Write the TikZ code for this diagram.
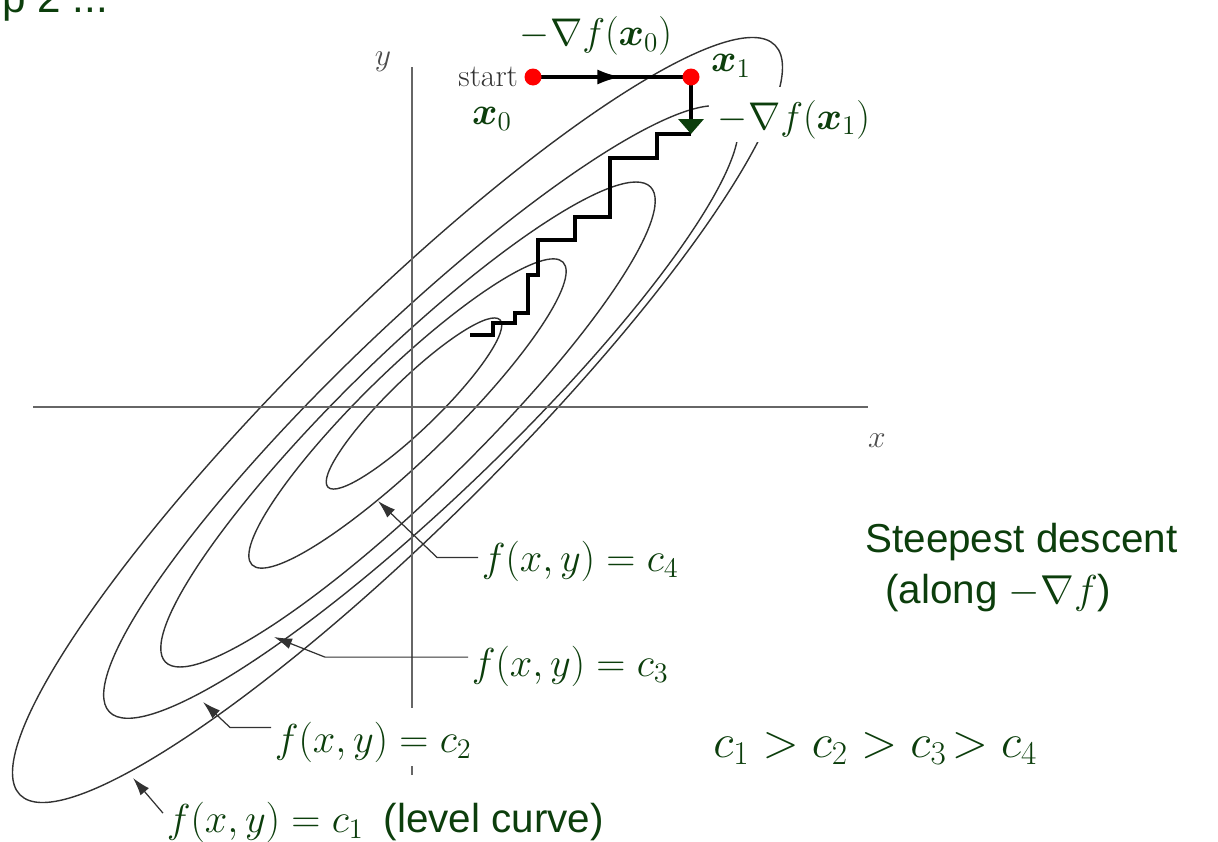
\RequirePackage{fix-cm}
\documentclass[tikz,border=0pt]{standalone}
\usepackage{amsmath}
\usepackage{amssymb}
\usepackage{fontspec}
\setsansfont{Liberation Sans}
\usepackage{tikz}
\usetikzlibrary{calc,arrows.meta,decorations.markings}

\definecolor{labelgreen}{RGB}{12,62,12}
\definecolor{curvegray}{RGB}{50,50,50}

\begin{document}
\begin{tikzpicture}[x=0.02cm, y=-0.02cm,
    contour/.style={curvegray, line width=0.8pt},
    axisline/.style={black!60, line width=1pt},
    leader/.style={curvegray, line width=0.7pt, -{Latex[length=3.6mm, width=2.2mm]}},
    lbl/.style={text=labelgreen, font=\fontsize{23}{28}\selectfont, inner sep=2pt},
    toplbl/.style={text=labelgreen, font=\fontsize{22}{26}\selectfont, inner sep=2pt},
    stair/.style={line width=2.8pt},
    reddot/.style={fill=red}]
    \useasboundingbox (0,0) rectangle (1218,842);
    \coordinate (x0) at (533,77);
    \coordinate (x1) at (691,77);
    \coordinate (g1) at (691,134);
    \coordinate (t1) at (133,778);
    \coordinate (t2) at (203,702);
    \coordinate (t3) at (274,637);
    \coordinate (t4) at (378,501);
    \coordinate (xs) at (33,407);
    \coordinate (xe) at (868,407);
    \coordinate (ys) at (412,775);
    \coordinate (ye) at (412,67);
    % level curves
    \foreach \cx/\cy/\ang/\ra/\rb in {397.5/420/44.8/532/107, 421/412/43.9/432.5/86,
        408/424.5/44.4/339.5/68, 407.5/413.5/44.2/217/44.5, 414/403.5/44.2/120/25}
        \draw[contour, rotate around={\ang:(\cx,\cy)}] (\cx,\cy) ellipse [x radius=\ra, y radius=\rb];
    % axes
    \draw[axisline] (xs) -- (xe);
    \draw[axisline] (ys) -- (ye);
    \node[text=black!70, font=\fontsize{18}{20}\selectfont] (xlab) at (877,441) {$x$};
    \node[text=black!70, font=\fontsize{18}{20}\selectfont] (ylab) at (383,62) {$y$};
    % descent path
    \draw[stair] (g1) -- (657,134) -- (657,158) -- (610,158) -- (610,217) -- (575,217)
        -- (575,240) -- (538,240) -- (538,275) -- (528,275) -- (528,313) -- (515,313)
        -- (515,323) -- (493,323) -- (493,335) -- (470,335);
    \draw[line width=2pt, postaction={decorate}, decoration={markings,
        mark=at position 0.56 with {\arrow{Latex[length=4.8mm, width=3mm]}}}] (x0) -- (x1);
    \draw[line width=2pt, -{Triangle[length=3mm, width=5mm, color=labelgreen, fill=labelgreen]}] (x1) -- (g1);
    \foreach \p in {x0,x1} {\fill[reddot] (\p) circle (8.5);}
    % labels at the path
    \node[text=black!80, font=\fontsize{18}{20}\selectfont, anchor=east, inner sep=1pt] (start) at (520,77) {start};
    \node[toplbl] (gx0) at (596,36) {$-\nabla f(\boldsymbol{x}_0)$};
    \node[toplbl] (lx1) at (731,66) {$\boldsymbol{x}_1$};
    \node[toplbl] (lx0) at (492,119) {$\boldsymbol{x}_0$};
    \node[toplbl, fill=white, inner xsep=5pt, text height=22pt, text depth=5.5pt, anchor=base] (gx1) at (794,129) {$-\nabla f(\boldsymbol{x}_1)$};
    % level curve labels
    \node[lbl, anchor=base west] (c4) at (478,571) {$f(x,y)=c_4$};
    \node[lbl, anchor=base west, fill=white] (c3) at (468,676) {$f(x,y)=c_3$};
    \node[lbl, anchor=base west, fill=white, text height=23pt, text depth=6pt] (c2) at (271,752) {$f(x,y)=c_2$};
    \node[lbl, anchor=base west] (c1) at (163,832) {$f(x,y)=c_1$\hspace{0.5em}\textsf{(level curve)}};
    \draw[leader] ([yshift=2pt]c4.west) -- ++(-41,0) -- (t4);
    \draw[leader] ([yshift=5pt]c3.west) -- ++(-143,0) -- (t3);
    \draw[leader] ([yshift=5.5pt]c2.west) -- ++(-41,0) -- (t2);
    \draw[leader] ([yshift=5pt]c1.west) -- (t1);
    % notes on the right
    \node[text=labelgreen, font=\sffamily\fontsize{23}{28}\selectfont, anchor=base west, inner sep=0pt] (sd) at (865,552) {Steepest descent};
    \node[text=labelgreen, font=\sffamily\fontsize{23}{28}\selectfont, anchor=base west, inner sep=0pt] (along) at (885,603) {(along $-\nabla f$)};
    \node[text=labelgreen, font=\fontsize{27}{31}\selectfont, anchor=base west, inner sep=0pt] (order) at (713,757) {$c_1 > c_2 > c_3\!> c_4$};
    \node[text=labelgreen, font=\sffamily\fontsize{24}{28}\selectfont, anchor=base west, inner sep=0pt] (steptxt) at (2,12) {p 2 ...};
\end{tikzpicture}
\end{document}
